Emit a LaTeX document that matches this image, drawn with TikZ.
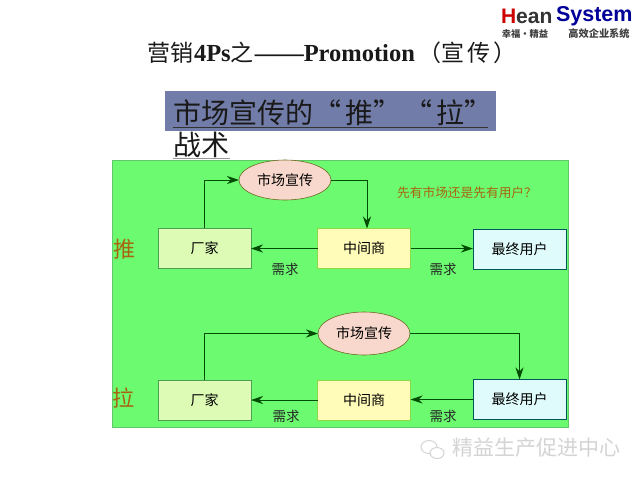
\documentclass[tikz,border=0pt]{standalone}
\usepackage{fontspec}
\setmainfont{Liberation Serif}
\newfontfamily\cjk{Noto Sans CJK SC}
\newfontfamily\logofont{Liberation Sans}
\usetikzlibrary{shapes.geometric,arrows.meta}
\newcommand{\fs}[1]{\fontsize{#1}{#1}\selectfont}
\definecolor{panel}{HTML}{6CFB70}
\definecolor{panelline}{HTML}{5FC868}
\definecolor{banner}{HTML}{727CA8}
\definecolor{boxg}{HTML}{DDFBB4}
\definecolor{boxy}{HTML}{FFFBB8}
\definecolor{boxb}{HTML}{DFFBFB}
\definecolor{ell}{HTML}{F8D8CC}
\definecolor{brownt}{HTML}{A8640F}
\definecolor{wm}{HTML}{D4D4D4}
\tikzset{
 every node/.style={inner sep=0pt,outer sep=0pt,font=\cjk},
 flowbox/.style={rectangle,minimum width=93pt,minimum height=40pt,line width=0.8pt,font=\cjk\fs{14}},
 gbox/.style={flowbox,fill=boxg,draw=panelline!80!black},
 ybox/.style={flowbox,fill=boxy,draw=panelline!70!yellow},
 bbox/.style={flowbox,fill=boxb,draw=teal!70!black},
 oval/.style={ellipse,minimum width=92pt,minimum height=40pt,fill=ell,draw=olive!70!black,line width=0.6pt,font=\cjk\fs{14}},
 link/.style={draw=black!70!green,line width=0.9pt,-{Stealth[length=12pt,width=8pt]}},
 demand/.style={font=\cjk\fs{13.5},text=black!85},
 side/.style={font=\cjk\fs{22},text=brownt},
 rulel/.style={line width=0.8pt,black!80}
}
\begin{document}
\begin{tikzpicture}[x=1pt,y=-1pt]
\useasboundingbox (0,0) rectangle (640,480);
\fill[white] (0,0) rectangle (640,480);
% logo
\node[anchor=west,font=\logofont\bfseries\fs{21},text=black!80] (logoa) at (501,16) {\textcolor{red!80!black}{H}ean};
\node[anchor=west,font=\logofont\bfseries\fs{21.5},text=blue!60!black] (logob) at (556,16) {System};
\node[font=\cjk\bfseries\fs{9.3},text=black!75] (logoc) at (525,34) {幸福·精益};
\node[font=\cjk\bfseries\fs{10.2},text=black!75] (logod) at (599,34) {高效企业系统};
% title
\node[anchor=west,font=\bfseries\fs{24.5},text=black!90] (title) at (147,53) {{\cjk\mdseries\fs{23}营销}\hspace{1pt}4Ps{\cjk\mdseries\fs{23}之}\hspace{1pt}——Promotion\hspace{4pt}{\cjk\mdseries\fs{23}（宣\hspace{3pt}传\hspace{3pt}）}};
% banner
\node[anchor=north west,minimum width=331pt,minimum height=40pt,fill=banner] (banner) at (165,91) {};
\node[anchor=west,font=\cjk\fs{28},text=black!90] (bta) at (173,113) {市场宣传的“\hspace{5pt}推”\hspace{2pt}“\hspace{5pt}拉”};
\draw[rulel] (173,127.5) -- (488,127.5);
\node[anchor=west,font=\cjk\fs{28},text=black!90] (btb) at (173,145) {战术};
\draw[rulel,black!40] (173,158.5) -- (230,158.5);
% panel
\node[anchor=north west,minimum width=456pt,minimum height=267pt,fill=panel,draw=panelline,line width=0.6pt] (panel) at (112,160) {};
% upper
\node[gbox] (f1) at (204.5,248) {厂家};
\node[ybox] (m1) at (364,248.5) {中间商};
\node[bbox] (u1) at (519.5,249) {最终用户};
\node[oval] (e1) at (285,180) {市场宣传};
\draw[link] (f1.north) |- (e1.west);
\draw[link] (e1.east) -| ([xshift=3pt]m1.north);
\draw[link] (m1.west) -- (f1.east |- m1.west);
\draw[link] (m1.east) -- (u1.west |- m1.east);
\node[demand] (d1) at (285,269) {需求};
\node[demand] (d2) at (443,269) {需求};
\node[side] (push) at (124,249) {推};
\node[font=\cjk\fs{12.7},text=brownt] (q) at (467,193) {先有市场还是先有用户？};
% lower
\node[gbox] (f2) at (204.5,400) {厂家};
\node[ybox] (m2) at (364,400) {中间商};
\node[bbox] (u2) at (519.5,399.5) {最终用户};
\node[oval,minimum height=43pt] (e2) at (364,333.5) {市场宣传};
\draw[link] (f2.north) |- (e2.west);
\draw[link] (e2.east) -| (u2.north);
\draw[link] (m2.west) -- (f2.east |- m2.west);
\draw[link] (u2.west) -- (m2.east |- u2.west);
\node[demand] (d3) at (286,416) {需求};
\node[demand] (d4) at (443,416) {需求};
\node[side] (pull) at (123,398) {拉};
% watermark
\node[anchor=west,font=\cjk\fs{21},text=wm] (wmt) at (452,448) {精益生产促进中心};
\draw[wm,line width=1pt] (429,447) ellipse (8pt and 6.5pt);
\draw[wm,line width=1pt,fill=white] (437,453) ellipse (7pt and 5.5pt);
\end{tikzpicture}
\end{document}
